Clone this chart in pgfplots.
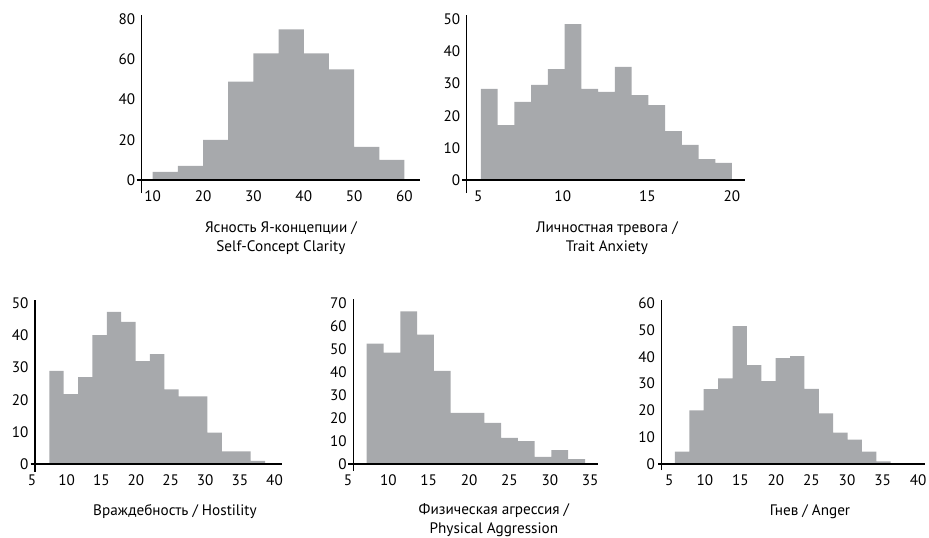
\documentclass[border=0pt]{standalone}
\usepackage{fontspec}
\setmainfont{PT Sans}
\usepackage{pgfplots}
\pgfplotsset{compat=1.18}
\definecolor{histgray}{RGB}{167,169,172}

\pgfplotsset{
  hist/.style={
    scale only axis,
    anchor=south west,
    axis on top=true,
    axis y line=left,
    axis x line=middle,
    axis line style={-, line width=1pt, black},
    major tick length=0pt,
    hide obscured x ticks=false,
    hide obscured y ticks=false,
    /pgf/number format/assume math mode=true,
    tick label style={font=\fontsize{11.4}{13}\selectfont},
    xticklabel style={yshift=-4.3pt},
    yticklabel style={xshift=-1.4pt},
    xlabel style={font=\fontsize{11.4}{14.25}\selectfont, align=center, anchor=center},
  },
  histbar/.style={const plot, fill=histgray, draw=none, mark=none},
}

\begin{document}
\begin{tikzpicture}
\useasboundingbox (0pt,0pt) rectangle (696.75pt,-402.75pt);

% Self-Concept Clarity
\begin{axis}[hist,
  at={(102.5pt,-144.75pt)}, width=212.5pt, height=133.5pt,
  xmin=6.82, xmax=63.08, ymin=-6.47, ymax=82.1,
  xtick={10,20,...,60}, ytick={0,20,...,80},
  axis y line shift=-3.75pt,
  xlabel={Ясность Я-концепции /\\Self-Concept Clarity},
  xlabel style={at={(axis description cs:0.509,-0.252)}},
]
\addplot[histbar] coordinates {
  (10,4)(15,7)(20,20)(25,49)(30,63)(35,75)(40,63)(45,55)(50,16.5)(55,10)(60,10)
} \closedcycle;
\end{axis}

% Trait Anxiety
\begin{axis}[hist,
  at={(346.5pt,-144.75pt)}, width=212.25pt, height=133.5pt,
  xmin=4.04, xmax=20.78, ymin=-4.04, ymax=51.3,
  xtick={5,10,15,20}, ytick={0,10,...,50},
  axis y line shift=-3.5pt,
  xlabel={Личностная тревога /\\Trait Anxiety},
  xlabel style={at={(axis description cs:0.512,-0.252)}},
]
\addplot[histbar] coordinates {
  (5.16,28.3)(6.15,17.1)(7.14,24.3)(8.13,29.6)(9.12,34.5)(10.11,48.5)
  (11.10,28.3)(12.09,27.4)(13.08,35.2)(14.07,26.4)(15.06,23.3)(16.05,15.2)
  (17.04,10.9)(18.03,6.5)(19.02,5.3)(20.01,5.3)
} \closedcycle;
\end{axis}

% Hostility
\begin{axis}[hist,
  at={(23.0pt,-353.8pt)}, width=188.25pt, height=128.8pt,
  xmin=4.81, xmax=41.03, ymin=-2.4, ymax=51.0,
  xtick={5,10,...,40}, ytick={0,10,...,50},
  axis y line shift=-3.2pt,
  xlabel={Враждебность / Hostility},
  xlabel style={at={(axis description cs:0.575,-0.233)}},
]
\addplot[histbar] coordinates {
  (7.5,29)(9.575,21.7)(11.65,27)(13.725,40.1)(15.8,47.3)(17.875,44.2)
  (19.95,32)(22.025,34.2)(24.1,23.2)(26.175,21)(28.25,21)(30.325,9.8)
  (32.4,3.9)(34.475,3.9)(36.55,1)(38.625,1)
} \closedcycle;
\end{axis}

% Physical Aggression
\begin{axis}[hist,
  at={(261pt,-353.25pt)}, width=187.7pt, height=128.8pt,
  xmin=5, xmax=36.0, ymin=-3, ymax=71.7,
  xtick={5,10,...,35}, ytick={0,10,...,70},
  axis y line shift=-4pt,
  xlabel={Физическая агрессия /\\Physical Aggression},
  xlabel style={at={(axis description cs:0.583,-0.284)}},
]
\addplot[histbar] coordinates {
  (7.32,52.4)(9.40,48.5)(11.48,66.4)(13.56,56.3)(15.64,40.6)(17.72,22.3)
  (19.80,22.3)(21.88,17.9)(23.96,11.4)(26.04,10)(28.12,3.1)(30.20,6.1)
  (32.28,2.2)(34.36,2.2)
} \closedcycle;
\end{axis}

% Anger
\begin{axis}[hist,
  at={(493.7pt,-352.5pt)}, width=200pt, height=127.5pt,
  xmin=3.45, xmax=40.96, ymin=-2.24, ymax=61.2,
  xtick={5,10,...,40}, ytick={0,10,...,60},
  axis y line shift=-2.5pt,
  xlabel={Гнев / Anger},
  xlabel style={at={(axis description cs:0.569,-0.245)}},
]
\addplot[histbar] coordinates {
  (5.8,4.6)(7.823,20)(9.846,27.9)(11.869,32)(13.892,51.5)(15.915,36.9)
  (17.938,30.9)(19.961,39.5)(21.984,40.25)(24.007,28)(26.03,18.9)
  (28.053,11.75)(30.076,9.1)(32.099,4.6)(34.122,1)(36.145,1)
} \closedcycle;
\end{axis}
\end{tikzpicture}
\end{document}
